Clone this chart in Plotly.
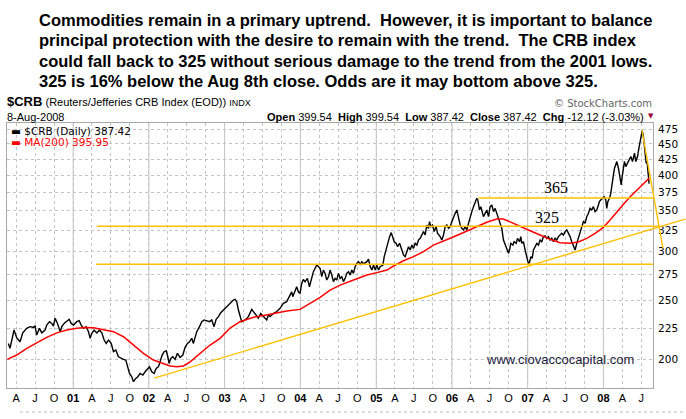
import math
from datetime import datetime
import pandas as pd
import plotly.graph_objects as go

# ---------------- data ----------------
# time as decimal years, values = $CRB index level
CRB_T = [2000.146, 2000.168, 2000.221, 2000.256, 2000.300, 2000.336, 2000.388, 2000.432, 2000.476, 2000.498,
         2000.520, 2000.556, 2000.586, 2000.630, 2000.652, 2000.688, 2000.718, 2000.740, 2000.762, 2000.793,
         2000.828, 2000.850, 2000.881, 2000.916, 2000.947, 2000.974, 2001.004, 2001.048, 2001.079, 2001.106,
         2001.136, 2001.172, 2001.202, 2001.224, 2001.246, 2001.277, 2001.312, 2001.348, 2001.378, 2001.409,
         2001.436, 2001.466, 2001.502, 2001.532, 2001.563, 2001.598, 2001.629, 2001.664, 2001.695, 2001.722,
         2001.744, 2001.774, 2001.796, 2001.827, 2001.854, 2001.884, 2001.920, 2001.950, 2001.981, 2002.008,
         2002.038, 2002.069, 2002.096, 2002.126, 2002.148, 2002.175, 2002.201, 2002.228, 2002.250, 2002.267,
         2002.289, 2002.316, 2002.346, 2002.377, 2002.412, 2002.448, 2002.478, 2002.509, 2002.536, 2002.566,
         2002.588, 2002.632, 2002.668, 2002.698, 2002.729, 2002.764, 2002.800, 2002.830, 2002.861, 2002.888,
         2002.918, 2002.949, 2002.984, 2003.028, 2003.072, 2003.116, 2003.138, 2003.160, 2003.182, 2003.204,
         2003.226, 2003.270, 2003.314, 2003.358, 2003.380, 2003.424, 2003.446, 2003.477, 2003.512, 2003.556,
         2003.578, 2003.600, 2003.644, 2003.688, 2003.732, 2003.776, 2003.820, 2003.864, 2003.886, 2003.900,
         2003.930, 2003.952, 2003.974, 2003.996, 2004.018, 2004.040, 2004.062, 2004.093, 2004.120, 2004.150,
         2004.172, 2004.216, 2004.238, 2004.260, 2004.282, 2004.304, 2004.326, 2004.348, 2004.370, 2004.392,
         2004.414, 2004.436, 2004.458, 2004.480, 2004.502, 2004.524, 2004.546, 2004.568, 2004.590, 2004.612,
         2004.634, 2004.656, 2004.678, 2004.700, 2004.722, 2004.744, 2004.766, 2004.788, 2004.810, 2004.832,
         2004.876, 2004.898, 2004.920, 2004.942, 2004.964, 2004.986, 2005.008, 2005.030, 2005.052, 2005.088,
         2005.105, 2005.127, 2005.149, 2005.176, 2005.198, 2005.220, 2005.237, 2005.264, 2005.281, 2005.308,
         2005.338, 2005.360, 2005.382, 2005.404, 2005.426, 2005.448, 2005.470, 2005.492, 2005.514, 2005.536,
         2005.558, 2005.580, 2005.602, 2005.624, 2005.646, 2005.668, 2005.690, 2005.703, 2005.721, 2005.743,
         2005.765, 2005.791, 2005.809, 2005.827, 2005.844, 2005.866, 2005.888, 2005.910, 2005.932, 2005.954,
         2005.976, 2005.998, 2006.020, 2006.042, 2006.064, 2006.086, 2006.108, 2006.130, 2006.152, 2006.174,
         2006.196, 2006.218, 2006.240, 2006.262, 2006.284, 2006.306, 2006.328, 2006.341, 2006.363, 2006.381,
         2006.399, 2006.416, 2006.438, 2006.460, 2006.482, 2006.504, 2006.526, 2006.548, 2006.570, 2006.592,
         2006.614, 2006.636, 2006.658, 2006.680, 2006.702, 2006.724, 2006.746, 2006.760, 2006.777, 2006.804,
         2006.821, 2006.848, 2006.865, 2006.892, 2006.909, 2006.922, 2006.944, 2006.966, 2006.980, 2006.997,
         2007.010, 2007.024, 2007.041, 2007.059, 2007.076, 2007.098, 2007.120, 2007.142, 2007.164, 2007.186,
         2007.208, 2007.230, 2007.252, 2007.274, 2007.296, 2007.318, 2007.340, 2007.362, 2007.384, 2007.406,
         2007.428, 2007.450, 2007.472, 2007.494, 2007.516, 2007.538, 2007.560, 2007.582, 2007.604, 2007.626,
         2007.648, 2007.670, 2007.692, 2007.714, 2007.736, 2007.758, 2007.780, 2007.802, 2007.824, 2007.846,
         2007.868, 2007.890, 2007.912, 2007.934, 2007.947, 2007.965, 2007.987, 2008.009, 2008.031, 2008.044,
         2008.058, 2008.080, 2008.097, 2008.110, 2008.132, 2008.146, 2008.163, 2008.176, 2008.198, 2008.220,
         2008.234, 2008.247, 2008.264, 2008.277, 2008.295, 2008.317, 2008.339, 2008.361, 2008.383, 2008.396,
         2008.409, 2008.427, 2008.449, 2008.471, 2008.484, 2008.498, 2008.511, 2008.524, 2008.537, 2008.550,
         2008.563, 2008.575, 2008.585, 2008.594, 2008.601]
CRB_V = [212.4, 208.5, 223.4, 217.0, 213.7, 221.0, 224.8, 226.2, 225.6, 226.7,
         219.2, 224.8, 221.0, 223.4, 227.6, 230.5, 229.0, 226.7, 233.5, 229.0,
         222.0, 226.2, 229.0, 231.4, 232.6, 229.0, 227.6, 230.5, 231.4, 227.6,
         224.8, 226.2, 222.0, 216.5, 220.6, 223.4, 221.0, 223.4, 221.0, 215.1,
         212.4, 215.1, 212.4, 205.9, 207.2, 202.0, 200.8, 200.0, 199.5, 194.6,
         189.7, 187.4, 183.9, 186.2, 187.4, 189.7, 188.5, 190.9, 192.6, 194.6,
         190.9, 189.7, 193.3, 194.6, 198.2, 203.3, 205.9, 206.7, 202.0, 197.0,
         200.8, 202.0, 200.0, 204.6, 201.5, 203.3, 209.3, 212.4, 213.7, 216.5,
         212.4, 222.0, 226.2, 230.5, 232.0, 231.1, 230.5, 232.0, 226.2, 232.6,
         234.9, 238.4, 240.8, 243.8, 246.3, 250.0, 250.6, 248.5, 240.8, 234.9,
         230.5, 232.0, 234.9, 241.4, 239.5, 236.3, 233.5, 237.7, 234.9, 232.0,
         236.3, 234.9, 237.7, 239.5, 242.4, 246.9, 248.5, 254.8, 257.9, 253.2,
         259.6, 262.9, 257.9, 256.4, 266.2, 270.2, 267.8, 271.3, 262.9, 273.0,
         278.2, 285.3, 283.5, 281.8, 273.0, 279.9, 276.4, 269.6, 273.0, 279.9,
         274.7, 268.0, 271.3, 269.6, 276.4, 271.3, 273.0, 268.0, 271.3, 276.4,
         278.2, 274.7, 279.9, 276.4, 283.5, 287.1, 288.9, 286.0, 288.9, 286.4,
         288.9, 291.5, 283.5, 279.9, 285.3, 279.9, 285.3, 279.9, 283.5, 285.3,
         294.4, 301.8, 309.5, 317.4, 322.2, 315.4, 311.4, 309.5, 305.6, 309.5,
         301.8, 296.3, 294.4, 299.9, 305.6, 301.8, 307.5, 303.7, 309.5, 307.5,
         313.4, 315.4, 319.4, 323.5, 319.4, 331.6, 327.5, 335.8, 329.6, 331.6,
         323.5, 329.6, 321.4, 319.4, 317.4, 313.4, 319.4, 329.6, 331.6, 327.5,
         329.6, 335.8, 342.2, 346.5, 350.9, 342.2, 331.6, 327.5, 325.5, 329.6,
         325.5, 333.7, 342.2, 348.7, 355.3, 359.8, 366.6, 364.3, 350.9, 355.3,
         346.5, 342.2, 346.5, 350.9, 342.2, 355.3, 357.5, 348.7, 353.0, 346.5,
         338.0, 331.6, 327.5, 313.4, 307.5, 303.7, 298.1, 301.8, 309.5, 307.5,
         311.4, 309.5, 315.4, 311.4, 317.4, 309.5, 311.4, 301.8, 294.4, 290.8,
         287.1, 287.8, 294.4, 292.5, 301.8, 305.6, 309.5, 307.5, 313.4, 311.4,
         317.4, 318.2, 315.4, 317.4, 313.4, 315.4, 311.4, 315.4, 313.4, 317.4,
         319.4, 321.4, 319.4, 323.5, 325.5, 321.4, 317.4, 311.4, 305.6, 301.8,
         309.5, 315.4, 321.4, 329.6, 335.8, 333.7, 342.2, 346.5, 353.0, 350.9,
         355.3, 348.7, 350.9, 357.5, 362.1, 364.3, 366.6, 368.9, 364.3, 353.0,
         362.1, 366.6, 373.6, 385.6, 400.3, 410.5, 415.7, 421.0, 410.5, 397.8,
         385.6, 397.8, 410.5, 421.0, 413.1, 418.3, 423.6, 429.0, 421.0, 426.3,
         434.4, 421.0, 429.0, 445.4, 456.7, 462.4, 473.0, 465.6, 451.0, 434.4,
         418.3, 421.0, 410.5, 399.5, 387.42]

# 200-day moving average (red line)
MA_T = [2000.133, 2000.256, 2000.388, 2000.520, 2000.652, 2000.784, 2000.916, 2001.048, 2001.158, 2001.268,
        2001.400, 2001.532, 2001.664, 2001.796, 2001.928, 2002.060, 2002.192, 2002.280, 2002.368, 2002.456,
        2002.544, 2002.676, 2002.808, 2002.940, 2003.072, 2003.204, 2003.380, 2003.600, 2003.820, 2003.996,
        2004.128, 2004.260, 2004.392, 2004.524, 2004.700, 2004.876, 2005.008, 2005.140, 2005.228, 2005.360,
        2005.492, 2005.624, 2005.756, 2005.844, 2005.976, 2006.108, 2006.284, 2006.460, 2006.592, 2006.680,
        2006.790, 2006.900, 2007.032, 2007.164, 2007.296, 2007.428, 2007.560, 2007.670, 2007.780, 2007.890,
        2008.000, 2008.088, 2008.176, 2008.264, 2008.352, 2008.440, 2008.528, 2008.594, 2008.601]
MA_V = [200.0, 203.3, 208.5, 213.2, 217.3, 221.0, 223.4, 224.8, 225.6, 225.3,
        223.9, 222.0, 217.8, 211.1, 204.6, 199.5, 196.5, 195.1, 194.6, 195.1,
        198.2, 204.6, 211.1, 216.5, 225.0, 230.5, 234.3, 237.1, 239.9, 241.4,
        246.9, 252.6, 259.6, 264.5, 269.6, 274.7, 277.2, 279.9, 284.2, 289.9,
        294.4, 299.9, 307.5, 311.0, 315.4, 320.6, 327.5, 335.0, 339.1, 339.1,
        334.6, 329.6, 324.5, 319.4, 314.2, 310.3, 309.5, 311.0, 315.4, 321.4,
        328.7, 338.0, 348.7, 358.4, 368.9, 377.5, 386.6, 394.5, 395.95]

# hand-drawn yellow annotation lines (decimal year, index level)
LEVEL_286_T = [2001.304, 2008.656]
LEVEL_286_V = [286.0, 286.0]
LEVEL_330_T = [2001.313, 2008.748]
LEVEL_330_V = [330.0, 330.0]
LEVEL_365_T = [2006.350, 2008.656]
LEVEL_365_V = [367.0, 367.0]
TREND_T = [2002.069, 2009.078]
TREND_V = [186.4, 339.1]
DROP_T = [2008.507, 2008.784]
DROP_V = [474.0, 303.7]

Y_TICKS = [200, 225, 250, 275, 300, 325, 350, 375, 400, 425, 450, 475]
YEARS = [2000, 2001, 2002, 2003, 2004, 2005, 2006, 2007, 2008]
QUARTER_LABELS = [(4, "A"), (7, "J"), (10, "O")]

HEADER_LINES = [
    "Commodities remain in a primary uptrend.  However, it is important to balance",
    "principal protection with the desire to remain with the trend.  The CRB index",
    "could fall back to 325 without serious damage to the trend from the 2001 lows.",
    "325 is 16% below the Aug 8th close. Odds are it may bottom above 325.",
]

# ---------------- helpers ----------------
def dec_year(t):
    y = int(math.floor(t))
    a = datetime(y, 1, 1)
    b = datetime(y + 1, 1, 1)
    return a + (b - a) * (t - y)

X0 = pd.Timestamp("2000-02-17")
X1 = pd.Timestamp("2008-08-27")
Y_RANGE = [math.log10(179.6), math.log10(486.7)]

W, H = 686, 419
ML, MR, MT, MB = 7, 0, 123, 31
PW, PH = W - ML - MR, H - MT - MB
PLOT_RIGHT = 653
XDOM = (PLOT_RIGHT - ML) / PW
X1_EXT = X0 + (X1 - X0) * (1.0 / XDOM)


def px(x):
    return (x - ML) / PW


def py(y):
    return (MT + PH - y) / PH


tickvals, ticktext = [], []
for yr in YEARS:
    d = pd.Timestamp(yr, 1, 1)
    if X0 <= d <= X1:
        tickvals.append(d)
        ticktext.append("<b>%02d</b>" % (yr % 100))
    for m, lab in QUARTER_LABELS:
        d = pd.Timestamp(yr, m, 1)
        if X0 <= d <= X1:
            tickvals.append(d)
            ticktext.append(lab)

fig = go.Figure()

fig.add_trace(go.Scatter(x=[dec_year(t) for t in CRB_T], y=CRB_V, mode="lines",
                         line=dict(color="#000000", width=1.4), name="$CRB (Daily)",
                         xaxis="x", yaxis="y", showlegend=False))
fig.add_trace(go.Scatter(x=[dec_year(t) for t in MA_T], y=MA_V, mode="lines",
                         line=dict(color="#ff0000", width=1.5), name="MA(200)",
                         xaxis="x", yaxis="y", showlegend=False))

YEL = "#ffc000"
for tt, vv in [(LEVEL_286_T, LEVEL_286_V), (LEVEL_330_T, LEVEL_330_V), (LEVEL_365_T, LEVEL_365_V),
               (TREND_T, TREND_V), (DROP_T, DROP_V)]:
    fig.add_trace(go.Scatter(x=[dec_year(t) for t in tt], y=vv, mode="lines",
                             line=dict(color=YEL, width=1.4), xaxis="x2", yaxis="y2",
                             showlegend=False, hoverinfo="skip"))

GRID = "#c4c4c4"
FRAME = "#a8a8a8"

shapes = []
for yr in YEARS:
    d = pd.Timestamp(yr, 1, 1)
    if X0 <= d <= X1:
        shapes.append(dict(type="line", xref="x", yref="paper", x0=d, x1=d, y0=0, y1=1,
                           line=dict(color=GRID, width=1), layer="below"))
shapes.append(dict(type="line", xref="paper", yref="paper", x0=px(20), x1=1.0, y0=py(412), y1=py(412),
                   line=dict(color="#bbbbbb", width=1, dash="dot")))

ann = []
HFONT = "Liberation Sans Narrow, Arial Narrow, Liberation Sans, sans-serif"
for i, (line, yc) in enumerate(zip(HEADER_LINES, [20, 40.5, 61, 81.5])):
    ann.append(dict(text="<b>%s</b>" % line, xref="paper", yref="paper", x=px(37), y=py(yc),
                    xanchor="left", yanchor="middle", showarrow=False,
                    font=dict(family=HFONT, size=16.5, color="#000000")))

SF = "Liberation Sans, Arial, sans-serif"
ann.append(dict(text="<b><span style='font-size:13px'>$CRB</span></b> (Reuters/Jefferies CRB Index (EOD)) "
                     "<span style='font-size:9px'>INDX</span>",
                xref="paper", yref="paper", x=px(6), y=py(110), xanchor="left", yanchor="bottom",
                showarrow=False, borderpad=0, font=dict(family=SF, size=11, color="#000000")))
ann.append(dict(text="8-Aug-2008", xref="paper", yref="paper", x=px(6), y=py(110.5), xanchor="left",
                yanchor="top", showarrow=False, borderpad=0, font=dict(family=SF, size=11, color="#000000")))
ann.append(dict(text="<b>Open</b> 399.54  <b>High</b> 399.54  <b>Low</b> 387.42  <b>Close</b> 387.42  "
                     "<b>Chg</b> -12.12 (-3.03%)",
                xref="paper", yref="paper", x=px(645), y=py(110.5), xanchor="right", yanchor="top",
                showarrow=False, borderpad=0, font=dict(family=SF, size=11, color="#000000")))
ann.append(dict(text="▼", xref="paper", yref="paper", x=px(650.5), y=py(116), xanchor="center",
                yanchor="middle", showarrow=False, font=dict(family="DejaVu Sans", size=7, color="#99003a")))
ann.append(dict(text="© StockCharts.com", xref="paper", yref="paper", x=px(653), y=py(110), xanchor="right",
                yanchor="bottom", showarrow=False, borderpad=0,
                font=dict(family="DejaVu Sans", size=10, color="#666666")))

LF = "DejaVu Sans, Verdana, sans-serif"
ann.append(dict(text="▬ $CRB (Daily) 387.42", xref="paper", yref="paper", x=px(9), y=py(130.5),
                xanchor="left", yanchor="middle", showarrow=False, font=dict(family=LF, size=10.5, color="#000000")))
ann.append(dict(text="▬ MA(200) 395.95", xref="paper", yref="paper", x=px(9), y=py(141.5),
                xanchor="left", yanchor="middle", showarrow=False, font=dict(family=LF, size=10.5, color="#ff0000")))

ann.append(dict(text="365", xref="x", yref="y", x=dec_year(2007.369), y=math.log10(381.5), xanchor="center",
                yanchor="middle", showarrow=False,
                font=dict(family="Liberation Serif, Times New Roman, serif", size=16, color="#000000")))
ann.append(dict(text="325", xref="x", yref="y", x=dec_year(2007.257), y=math.log10(340.5), xanchor="center",
                yanchor="middle", showarrow=False,
                font=dict(family="Liberation Serif, Times New Roman, serif", size=16, color="#000000")))
ann.append(dict(text="www.ciovaccocapital.com", xref="paper", yref="paper", x=px(560), y=py(359),
                xanchor="center", yanchor="middle", showarrow=False,
                font=dict(family=SF, size=13, color="#1a1a3a")))

fig.update_layout(
    width=W, height=H,
    margin=dict(l=ML, r=MR, t=MT, b=MB, pad=0),
    paper_bgcolor="#ffffff", plot_bgcolor="rgba(0,0,0,0)",
    showlegend=False,
    xaxis=dict(type="date", domain=[0, XDOM], range=[X0, X1], anchor="y",
               tickmode="array", tickvals=tickvals, ticktext=ticktext,
               showgrid=True, gridcolor=GRID, griddash="dot", gridwidth=1,
               showline=True, mirror=True, linecolor=FRAME, linewidth=1,
               ticks="", zeroline=False,
               tickfont=dict(family=SF, size=11, color="#000000")),
    yaxis=dict(type="log", range=Y_RANGE, side="right", anchor="x", domain=[0, 1],
               tickmode="array", tickvals=Y_TICKS, ticktext=[str(v) for v in Y_TICKS],
               showgrid=True, gridcolor=GRID, griddash="dot", gridwidth=1,
               showline=True, mirror=True, linecolor=FRAME, linewidth=1,
               ticks="", zeroline=False, ticklabelstandoff=2,
               tickfont=dict(family=LF, size=10.5, color="#000000")),
    xaxis2=dict(type="date", domain=[0, 1], range=[X0, X1_EXT], anchor="y2", visible=False),
    yaxis2=dict(type="log", domain=[0, 1], range=Y_RANGE, anchor="x2", visible=False),
    shapes=shapes,
    annotations=ann,
)

fig.write_html("out.html")
